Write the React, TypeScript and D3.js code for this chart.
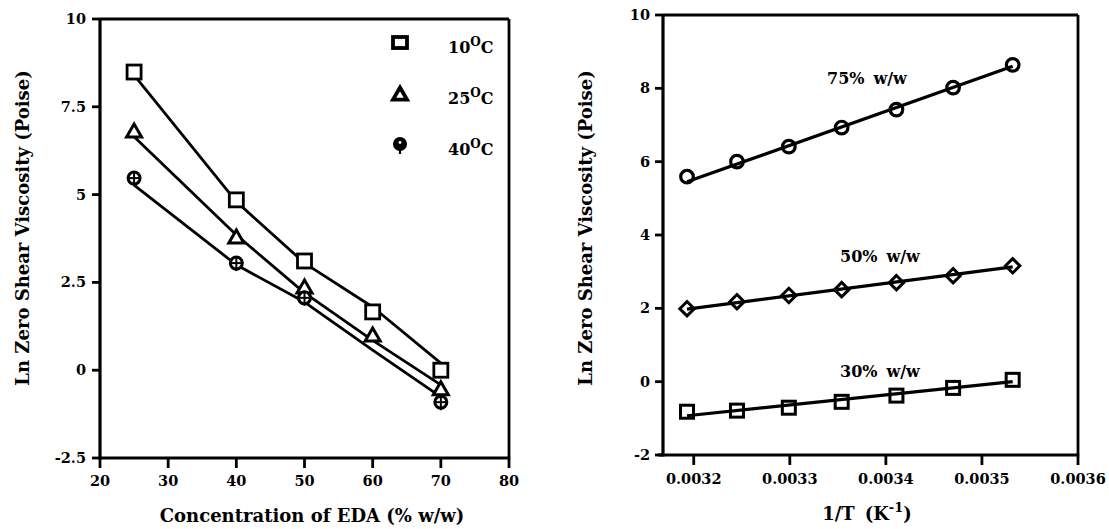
import React from "react";
import * as d3 from "d3";

// ---------- Left panel data ----------
const concentrations = [25, 40, 50, 60, 70];
const visc10C = [8.49, 4.85, 3.11, 1.66, 0.0];
const visc25C = [6.78, 3.76, 2.34, 0.97, -0.56];
const visc40C: (number | null)[] = [5.47, 3.05, 2.06, null, -0.91];
const fit10C = [8.4, 4.8, 3.05, 1.8, 0.2];
const fit25C = [6.65, 3.85, 2.2, 0.85, -0.42];
const fit40C = [5.27, 3.0, 1.94, 0.57, -0.76];
const leftXTicks = [20, 30, 40, 50, 60, 70, 80];
const leftYTicks = [-2.5, 0, 2.5, 5, 7.5, 10];
const legendLabels = ["10", "25", "40"];

// ---------- Right panel data ----------
const invT = [0.003193, 0.003245, 0.003299, 0.003354, 0.003411, 0.00347, 0.003532];
const lnVisc75 = [5.59, 6.0, 6.41, 6.93, 7.42, 8.02, 8.64];
const lnVisc50 = [1.99, 2.18, 2.35, 2.51, 2.7, 2.89, 3.16];
const lnVisc30 = [-0.82, -0.79, -0.71, -0.55, -0.38, -0.17, 0.05];
const fitInvT = [0.003193, 0.003532];
const fit75 = [5.45, 8.6];
const fit50 = [1.98, 3.13];
const fit30 = [-0.93, 0.0];
const rightXTicks = [0.0032, 0.0033, 0.0034, 0.0035, 0.0036];
const rightYTicks = [-2, 0, 2, 4, 6, 8, 10];

const FONT = "'DejaVu Serif', serif";

export default function App() {
  const lx = d3.scaleLinear().domain([20, 80]).range([100, 509]);
  const ly = d3.scaleLinear().domain([-2.5, 10]).range([458, 19]);
  const rx = d3.scaleLinear().domain([0.003168, 0.0036]).range([663, 1078]);
  const ry = d3.scaleLinear().domain([-2, 10]).range([455, 15]);

  const leftLine = d3
    .line<[number, number]>()
    .x((d) => lx(d[0]))
    .y((d) => ly(d[1]))
    .curve(d3.curveLinear);
  const rightLine = d3
    .line<[number, number]>()
    .x((d) => rx(d[0]))
    .y((d) => ry(d[1]));

  const zip = (xs: number[], ys: number[]) => xs.map((x, i) => [x, ys[i]] as [number, number]);

  const sq = (cx: number, cy: number, s: number, key: string, sw = 2.8, fill = "white") => (
    <rect key={key} x={cx - s / 2} y={cy - s / 2} width={s} height={s} fill={fill} stroke="black" strokeWidth={sw} />
  );
  const tri = (cx: number, cy: number, s: number, key: string, sw = 3, fill = "white") => {
    const h = (s * Math.sqrt(3)) / 2;
    return (
      <path
        key={key}
        d={`M${cx},${cy - h * 0.62}L${cx + s / 2},${cy + h * 0.38}L${cx - s / 2},${cy + h * 0.38}Z`}
        fill={fill}
        stroke="black"
        strokeWidth={sw}
      />
    );
  };
  const crossCircle = (cx: number, cy: number, r: number, key: string) => (
    <g key={key}>
      <circle cx={cx} cy={cy} r={r} fill="white" stroke="black" strokeWidth={3} />
      <line x1={cx - r} x2={cx + r} y1={cy} y2={cy} stroke="black" strokeWidth={2} />
      <line x1={cx} x2={cx} y1={cy - r} y2={cy + r + 2} stroke="black" strokeWidth={2} />
    </g>
  );
  const diamond = (cx: number, cy: number, r: number, key: string) => (
    <path key={key} d={`M${cx},${cy - r}L${cx + r},${cy}L${cx},${cy + r}L${cx - r},${cy}Z`} fill="none" stroke="black" strokeWidth={3} />
  );

  const tickStyle = { fontFamily: FONT, fontWeight: 700, fontSize: 14.5 } as React.CSSProperties;
  const titleStyle = { fontFamily: FONT, fontWeight: 700, fontSize: 18 } as React.CSSProperties;
  const labelStyle = { fontFamily: FONT, fontWeight: 700, fontSize: 16 } as React.CSSProperties;

  return (
    <svg width={1109} height={529} style={{ position: "absolute", left: 0, top: 0, background: "white" }}>
      <rect x={0} y={0} width={1109} height={529} fill="white" />

      {/* ================= LEFT PANEL ================= */}
      <g>
        <line x1={lx(20)} x2={lx(80)} y1={ly(10)} y2={ly(10)} stroke="black" strokeWidth={2.8} />
        <line x1={lx(80)} x2={lx(80)} y1={ly(10)} y2={ly(-2.5)} stroke="black" strokeWidth={2.8} />
        <line x1={lx(20)} x2={lx(20)} y1={ly(10) - 1} y2={ly(-2.5) + 1.5} stroke="black" strokeWidth={3.2} />
        <line x1={lx(20) - 1.5} x2={lx(80) + 1.2} y1={ly(-2.5)} y2={ly(-2.5)} stroke="black" strokeWidth={3.2} />
        {leftYTicks.map((t) => (
          <g key={"ly" + t}>
            <line x1={lx(20) - 8} x2={lx(20)} y1={ly(t)} y2={ly(t)} stroke="black" strokeWidth={2.8} />
            <text x={lx(20) - 14} y={ly(t)} dy="0.35em" textAnchor="end" style={tickStyle}>
              {String(t)}
            </text>
          </g>
        ))}
        {leftXTicks.map((t) => (
          <g key={"lx" + t}>
            <line x1={lx(t)} x2={lx(t)} y1={ly(-2.5)} y2={ly(-2.5) + 10} stroke="black" strokeWidth={2.8} />
            <text x={lx(t)} y={486} textAnchor="middle" style={tickStyle}>
              {String(t)}
            </text>
          </g>
        ))}
        {[fit10C, fit25C, fit40C].map((f, i) => (
          <path key={"lf" + i} d={leftLine(zip(concentrations, f)) || ""} fill="none" stroke="black" strokeWidth={2.8} strokeLinejoin="round" />
        ))}
        {concentrations.map((c, i) => sq(lx(c), ly(visc10C[i]), 14, "s10" + i))}
        {concentrations.map((c, i) => tri(lx(c), ly(visc25C[i]), 15, "t25" + i))}
        {concentrations.map((c, i) =>
          visc40C[i] === null ? null : crossCircle(lx(c), ly(visc40C[i] as number), 6, "c40" + i)
        )}
        {/* legend */}
        <rect x={393} y={37} width={14} height={11} fill="white" stroke="black" strokeWidth={3.8} />
        {tri(400, 95, 14, "legtri", 3.8, "white")}
        <g>
          <circle cx={400} cy={144} r={7} fill="black" />
          <circle cx={400} cy={142.5} r={1.4} fill="white" />
          <line x1={400} x2={400} y1={149} y2={154} stroke="black" strokeWidth={2.2} />
        </g>
        {legendLabels.map((l, i) => (
          <text key={"leg" + l} x={448} y={53 + i * 51} style={labelStyle}>
            {l}
            <tspan fontSize={12} dy={-7}>
              O
            </tspan>
            <tspan dy={7}>C</tspan>
          </text>
        ))}
        <text x={312} y={522} textAnchor="middle" style={titleStyle}>
          Concentration of EDA (% w/w)
        </text>
        <text transform="translate(29,228) rotate(-90)" textAnchor="middle" style={titleStyle}>
          Ln Zero Shear Viscosity (Poise)
        </text>
      </g>

      {/* ================= RIGHT PANEL ================= */}
      <g>
        <line x1={rx(0.003168)} x2={rx(0.0036)} y1={ry(10)} y2={ry(10)} stroke="black" strokeWidth={2.8} />
        <line x1={rx(0.0036)} x2={rx(0.0036)} y1={ry(10)} y2={ry(-2)} stroke="black" strokeWidth={2.8} />
        <line x1={rx(0.003168)} x2={rx(0.003168)} y1={ry(10) - 1} y2={ry(-2) + 1.5} stroke="black" strokeWidth={3.2} />
        <line x1={rx(0.003168) - 5} x2={rx(0.0036) + 1.2} y1={ry(-2)} y2={ry(-2)} stroke="black" strokeWidth={3.2} />
        {rightYTicks.map((t) => (
          <g key={"ry" + t}>
            <line x1={rx(0.003168) - 8} x2={rx(0.003168)} y1={ry(t)} y2={ry(t)} stroke="black" strokeWidth={2.8} />
            <text x={rx(0.003168) - 13} y={ry(t)} dy="0.35em" textAnchor="end" style={tickStyle}>
              {String(t)}
            </text>
          </g>
        ))}
        {rightXTicks.map((t) => (
          <g key={"rx" + t}>
            <line x1={rx(t)} x2={rx(t)} y1={ry(-2)} y2={ry(-2) + 10} stroke="black" strokeWidth={2.8} />
            <text x={rx(t)} y={484} textAnchor="middle" style={tickStyle}>
              {t.toFixed(4)}
            </text>
          </g>
        ))}
        {[fit75, fit50, fit30].map((f, i) => (
          <path key={"rf" + i} d={rightLine(zip(fitInvT, f)) || ""} fill="none" stroke="black" strokeWidth={3.2} />
        ))}
        {invT.map((x, i) => (
          <circle key={"c75" + i} cx={rx(x)} cy={ry(lnVisc75[i])} r={6.3} fill="none" stroke="black" strokeWidth={3.2} />
        ))}
        {invT.map((x, i) => diamond(rx(x), ry(lnVisc50[i]), 7.2, "d50" + i))}
        {invT.map((x, i) => sq(rx(x), ry(lnVisc30[i]), 13, "s30" + i, 3, "none"))}
        <text x={827} y={84} style={labelStyle}>
          75%<tspan dx={9}>w/w</tspan>
        </text>
        <text x={840} y={262} style={labelStyle}>
          50%<tspan dx={9}>w/w</tspan>
        </text>
        <text x={840} y={377} style={labelStyle}>
          30%<tspan dx={9}>w/w</tspan>
        </text>
        <text x={867} y={520} textAnchor="middle" style={titleStyle}>
          1/T<tspan dx={10}>(K</tspan>
          <tspan fontSize={13} dy={-8}>
            -1
          </tspan>
          <tspan dy={8}>)</tspan>
        </text>
        <text transform="translate(592,228) rotate(-90)" textAnchor="middle" style={titleStyle}>
          Ln Zero Shear Viscosity (Poise)
        </text>
      </g>
    </svg>
  );
}
